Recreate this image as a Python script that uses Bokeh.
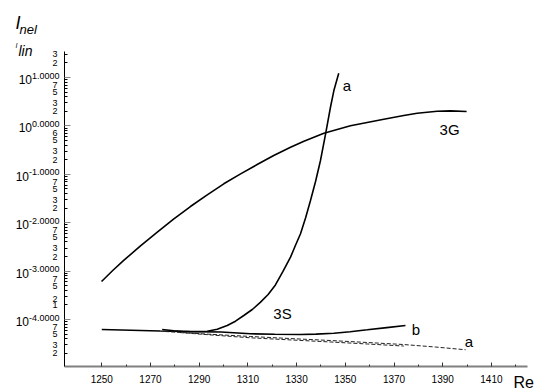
from bokeh.plotting import figure
from bokeh.models import Range1d, FixedTicker, Label, LinearAxis, LogAxis
from bokeh.embed import file_html
from bokeh.resources import INLINE

# ---- data ----
re_3g = [1249.9, 1254.5, 1259.0, 1265.9, 1272.8, 1279.6, 1286.4, 1293.3, 1300.1, 1307.0,
         1313.8, 1320.6, 1327.5, 1333.0, 1341.2, 1352.1, 1365.8, 1374.0, 1379.5, 1387.7,
         1393.2, 1399.8]
val_3g = [6.10e-4, 1.03e-3, 1.66e-3, 3.33e-3, 6.37e-3, 0.01205, 0.0216, 0.0377, 0.0637, 0.102,
          0.159, 0.244, 0.363, 0.483, 0.706, 1.005, 1.375, 1.64, 1.83, 2.01, 2.05, 1.99]

re_a = [1274.8, 1279.6, 1283.7, 1288.5, 1293.3, 1297.4, 1301.5, 1304.9, 1308.3, 1311.8, 1315.2,
        1318.3, 1321.3, 1324.4, 1327.5, 1329.5, 1331.6, 1333.7, 1335.7, 1337.8, 1339.8,
        1341.9, 1343.9, 1345.3, 1347.3]
val_a = [6.21e-5, 5.85e-5, 5.65e-5, 5.65e-5, 5.73e-5, 6.31e-5, 7.52e-5, 9.23e-5, 1.21e-4, 1.61e-4,
         2.28e-4, 3.29e-4, 5.19e-4, 9.86e-4, 1.94e-3, 3.38e-3, 5.90e-3, 0.01262, 0.0288, 0.0719,
         0.193, 0.687, 2.43, 5.38, 12.3]

re_b = [1250, 1262, 1274, 1286, 1299, 1311, 1321, 1331.6, 1338, 1345.3, 1352, 1359, 1367, 1374.7]
val_b = [6.21e-5, 6.0e-5, 5.78e-5, 5.63e-5, 5.52e-5, 5.07e-5, 4.97e-5, 4.90e-5, 5.0e-5, 5.21e-5,
         5.6e-5, 6.12e-5, 6.8e-5, 7.52e-5]

re_dash_a = [1276, 1293, 1311, 1327, 1344, 1359, 1374, 1387, 1399.4]
val_dash_a = [5.65e-5, 5.0e-5, 4.46e-5, 4.05e-5, 3.68e-5, 3.35e-5, 3.04e-5, 2.7e-5, 2.37e-5]

re_dash_b = [1282, 1296, 1311, 1327, 1344, 1359, 1374]
val_dash_b = [5.38e-5, 4.75e-5, 4.19e-5, 3.8e-5, 3.43e-5, 3.12e-5, 2.83e-5]

x_major = [1250, 1270, 1290, 1310, 1330, 1350, 1370, 1390, 1410]
x_minor = [1260, 1280, 1300, 1320, 1340, 1360, 1380, 1400, 1420]

y_decades = [1, 0, -1, -2, -3, -4]
y_decade_sup = ["1.0000", "0.0000", "-1.0000", "-2.0000", "-3.0000", "-4.0000"]
y_digit_vals = [30, 20, 7, 5, 3, 2, 0.7, 0.5, 0.3, 0.2, 0.07, 0.05, 0.03, 0.02,
                0.007, 0.005, 0.003, 0.002, 7e-4, 5e-4, 2.6e-4, 2e-4, 7e-5, 5e-5, 3e-5, 2e-5]
y_digit_text = ["3", "2", "7", "5", "3", "2", "6", "5", "3", "2", "7", "5", "3", "2",
                "7", "5", "3", "2", "7", "5", "2", "1", "7", "5", "3", "2"]

curve_labels = ["a", "3G", "3S", "b", "a"]
curve_label_re = [1350.7, 1392.8, 1324.2, 1379.0, 1400.8]
curve_label_val = [6.84, 0.843, 1.33e-4, 6.2e-5, 3.43e-5]

# axis extents (data) and the full-canvas view around them
X0, X1 = 1234.7, 1424.8
LY0, LY1 = -4.971, 1.545
Y0, Y1 = 10 ** LY0, 10 ** LY1
PX_PER_X = 2.435
PX_PER_DEC = 48.4
XL, XR = X0 - 64 / PX_PER_X, X1 + 20 / PX_PER_X
YB = 10 ** (LY0 - 26 / PX_PER_DEC)
YT = 10 ** (1.517 + 52 / PX_PER_DEC)

p = figure(width=547, height=392, x_range=Range1d(XL, XR), y_range=Range1d(YB, YT),
           y_axis_type="log", x_axis_location=None, y_axis_location=None,
           output_backend="svg", toolbar_location=None, min_border=0)
p.outline_line_color = None
p.grid.visible = False
p.background_fill_color = "white"
p.border_fill_color = "white"

# x axis
xa = LinearAxis(fixed_location=Y0, bounds=(X0, X1))
xa.ticker = FixedTicker(ticks=x_major, minor_ticks=x_minor)
xa.axis_line_color = "#808080"
xa.axis_line_width = 2
xa.major_tick_in = 4
xa.major_tick_out = 0
xa.minor_tick_in = 2
xa.minor_tick_out = 0
xa.major_tick_line_color = "#333333"
xa.minor_tick_line_color = "#333333"
xa.major_label_text_font = "Liberation Sans"
xa.major_label_text_font_size = "10px"
xa.major_label_text_color = "black"
xa.major_label_standoff = 8
p.add_layout(xa, "below")

# y axis (tick marks; labels drawn as text below)
minor_y = []
for e in range(-5, 2):
    for d in range(2, 10):
        v = d * 10.0 ** e
        if Y0 <= v <= 31:
            minor_y.append(v)
ya = LogAxis(fixed_location=X0, bounds=(Y0, Y1))
ya.ticker = FixedTicker(ticks=[10.0 ** e for e in y_decades], minor_ticks=minor_y)
ya.axis_line_color = "black"
ya.axis_line_width = 1
ya.major_tick_in = 6
ya.major_tick_out = 0
ya.major_tick_line_color = "#888888"
ya.minor_tick_in = 3
ya.minor_tick_out = 0
ya.minor_tick_line_color = "black"
ya.major_label_text_font_size = "9px"
ya.major_label_text_alpha = 0
ya.major_label_standoff = 0
p.add_layout(ya, "left")

# curves
p.line(re_3g, val_3g, line_color="black", line_width=1.6)
p.line(re_a, val_a, line_color="black", line_width=1.6)
p.line(re_b, val_b, line_color="black", line_width=1.6)
p.line(re_dash_a, val_dash_a, line_color="#222222", line_width=1, line_dash="4 2")
p.line(re_dash_b, val_dash_b, line_color="#222222", line_width=1, line_dash="4 2")

FONT = "Liberation Sans"

def lab(x, y, text, dx=0, dy=0, size="10px", align="left", baseline="middle", style="normal"):
    p.add_layout(Label(x=x, y=y, text=text, x_offset=dx, y_offset=dy, text_font=FONT,
                       text_font_size=size, text_align=align, text_baseline=baseline,
                       text_font_style=style, text_color="black"))

# curve labels
for t, xv, yv in zip(curve_labels, curve_label_re, curve_label_val):
    lab(xv, yv, t, size="15px", align="center")

# y tick labels
sup_size = 9
for e, s in zip(y_decades, y_decade_sup):
    lab(X0, 10.0 ** e, s, dx=-5, dy=2, size=f"{sup_size}px", align="right")
    w = sum(0.333 if c == "-" else (0.278 if c == "." else 0.556) for c in s) * sup_size
    lab(X0, 10.0 ** e, "10", dx=-5 - w, dy=-2, size="12px", align="right")
for v, t in zip(y_digit_vals, y_digit_text):
    lab(X0, v, t, dx=-7, dy=0, size="9px", align="right")

# axis titles
lab(X0, Y0, "I", dx=-49, dy=344, size="18px", baseline="alphabetic", style="italic")
lab(X0, Y0, "nel", dx=-45, dy=337, size="13px", baseline="alphabetic", style="italic")
lab(X0, Y0, "I", dx=-49, dy=321, size="7px", baseline="alphabetic", style="italic")
lab(X0, Y0, "lin", dx=-46, dy=316, size="14px", baseline="alphabetic", style="italic")
lab(X1, Y0, "Re", dx=-14, dy=-16, size="16px", baseline="alphabetic")

open("out.html", "w").write(file_html(p, INLINE))
